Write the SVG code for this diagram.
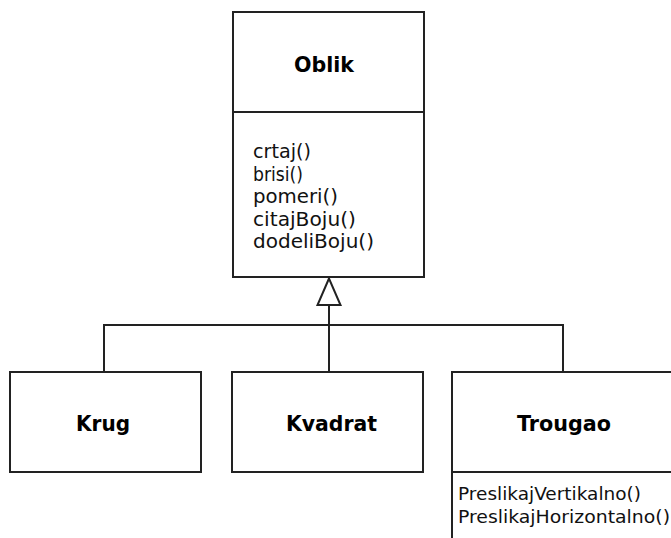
<svg xmlns="http://www.w3.org/2000/svg" width="671" height="538" viewBox="0 0 671 538">
  <style>
    .box { fill: #ffffff; stroke: #222222; stroke-width: 2; }
    .sep { stroke: #222222; stroke-width: 2; fill: none; }
    .title { font-family: "DejaVu Sans", "Liberation Sans", sans-serif; font-weight: bold; font-size: 21px; fill: #000000; }
    .op { font-family: "DejaVu Sans", "Liberation Sans", sans-serif; font-size: 20px; fill: #111111; }
    .op2 { font-family: "DejaVu Sans", "Liberation Sans", sans-serif; font-size: 17.5px; fill: #111111; }
    .conn { stroke: #222222; stroke-width: 2; fill: none; }
  </style>

  <rect width="671" height="538" fill="#ffffff"/>

  <!-- inheritance connectors -->
  <g id="connectors">
    <polyline class="conn" points="104,372 104,325 563,325 563,372"/>
    <line class="conn" x1="329" y1="305" x2="329" y2="372"/>
    <polygon points="329,278.5 317.5,305 340.5,305" fill="#ffffff" stroke="#222222" stroke-width="2" stroke-linejoin="miter"/>
  </g>

  <!-- base class -->
  <g id="oblik">
    <rect class="box" x="233" y="12" width="191" height="265"/>
    <line class="sep" x1="233" y1="112" x2="424" y2="112"/>
    <text class="title" x="294" y="72" textLength="60" lengthAdjust="spacingAndGlyphs">Oblik</text>
    <text class="op" x="253" y="158" textLength="58" lengthAdjust="spacingAndGlyphs">crtaj()</text>
    <text class="op" x="253" y="180.5" textLength="50" lengthAdjust="spacingAndGlyphs">brisi()</text>
    <text class="op" x="253" y="203" textLength="85" lengthAdjust="spacingAndGlyphs">pomeri()</text>
    <text class="op" x="253" y="225.5" textLength="103" lengthAdjust="spacingAndGlyphs">citajBoju()</text>
    <text class="op" x="253" y="248" textLength="121" lengthAdjust="spacingAndGlyphs">dodeliBoju()</text>
  </g>

  <!-- subclasses -->
  <g id="krug">
    <rect class="box" x="10" y="372" width="191" height="100"/>
    <text class="title" x="76" y="431" textLength="54" lengthAdjust="spacingAndGlyphs">Krug</text>
  </g>

  <g id="kvadrat">
    <rect class="box" x="232" y="372" width="191" height="100"/>
    <text class="title" x="286" y="431" textLength="91" lengthAdjust="spacingAndGlyphs">Kvadrat</text>
  </g>

  <g id="trougao">
    <rect class="box" x="452" y="372" width="230" height="180"/>
    <line class="sep" x1="452" y1="472" x2="682" y2="472"/>
    <text class="title" x="517" y="431" textLength="94" lengthAdjust="spacingAndGlyphs">Trougao</text>
    <text class="op2" x="458" y="500" textLength="183" lengthAdjust="spacingAndGlyphs">PreslikajVertikalno()</text>
    <text class="op2" x="458" y="523" textLength="212" lengthAdjust="spacingAndGlyphs">PreslikajHorizontalno()</text>
  </g>
</svg>
